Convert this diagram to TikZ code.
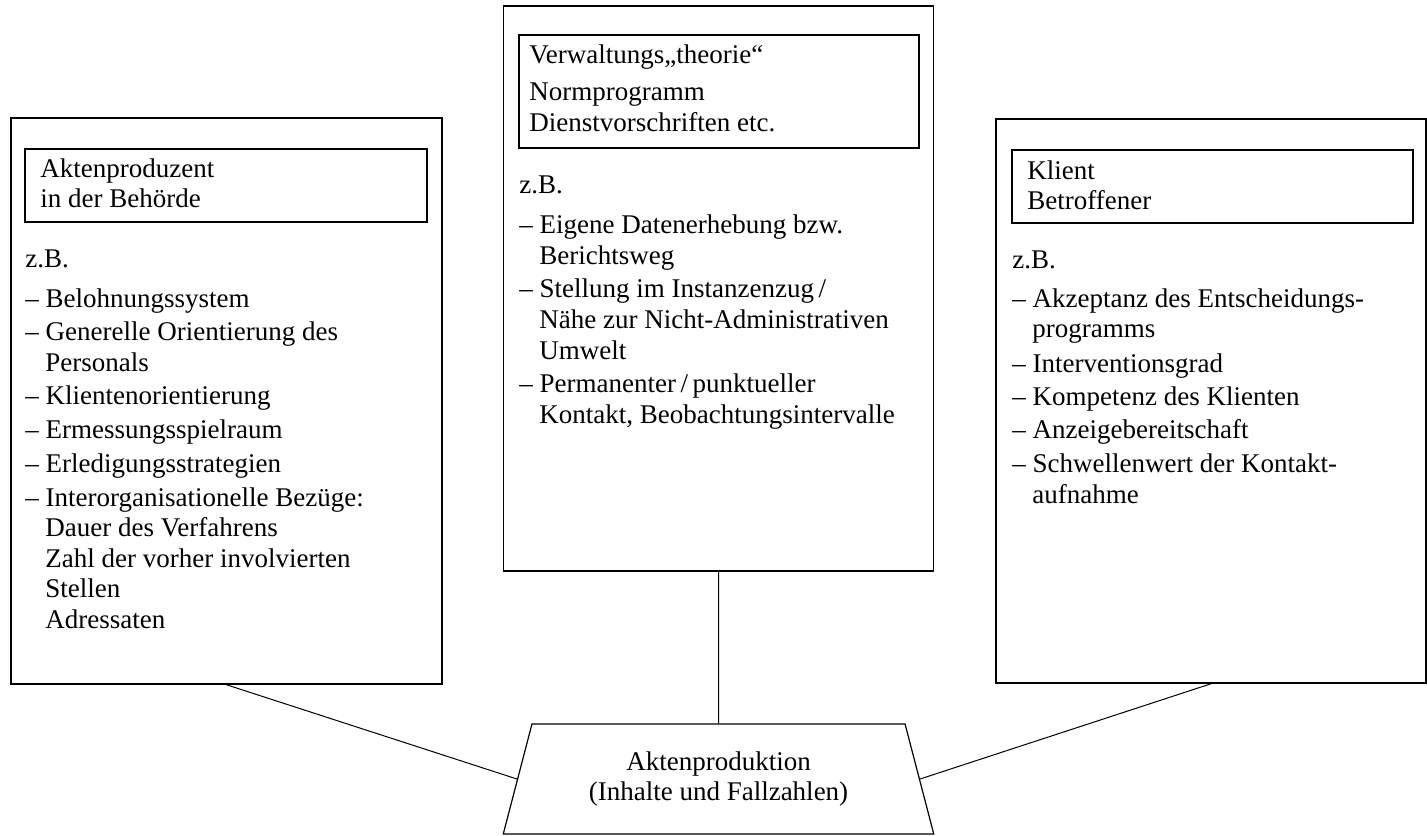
\documentclass[tikz,border=0pt]{standalone}
\usepackage{fontspec}
\setmainfont{Liberation Serif}
\usetikzlibrary{shapes.geometric}

\tikzset{
  box/.style={draw, line width=0.75pt, inner sep=0pt},
  txt/.style={anchor=base west, inner sep=0pt, font=\fontsize{13.5}{15.3}\selectfont},
  conn/.style={line width=0.5pt}
}

\begin{document}
\begin{tikzpicture}[x=0.5pt,y=-0.5pt]
\useasboundingbox (0,0) rectangle (1427,835);
\node[box, minimum width=215.5pt, minimum height=283pt] (lbox) at (226.5,401) {};
\node[box, minimum width=215pt, minimum height=282.5pt] (mbox) at (718.5,288.5) {};
\node[box, minimum width=215pt, minimum height=282pt] (rbox) at (1211,401) {};
\node[box, minimum width=201pt, minimum height=36.5pt] (lhead) at (226,185.5) {};
\node[box, minimum width=200pt, minimum height=56.5pt] (mhead) at (719,91.5) {};
\node[box, minimum width=200.5pt, minimum height=36.5pt] (rhead) at (1212.5,186.5) {};

\node[txt] (lh1) at (40,177) {Aktenproduzent};
\node[txt] (lh2) at (40,207) {in der Behörde};
\node[txt] (mh1) at (529,63) {Verwaltungs„theorie“};
\node[txt] (mh2) at (529,100) {Normprogramm};
\node[txt] (mh3) at (529,131) {Dienstvorschriften etc.};
\node[txt] (rh1) at (1027,179) {Klient};
\node[txt] (rh2) at (1027,209) {Betroffener};

\foreach \d/\y/\t [count=\i] in {0/267/{z.B.}, 0/307/{– Belohnungssystem},
  0/340/{– Generelle Orientierung des}, 20/371/{Personals},
  0/404/{– Klientenorientierung}, 0/438/{– Ermessungsspielraum},
  0/472/{– Erledigungsstrategien}, 0/506/{– Interorganisationelle Bezüge:},
  20/536/{Dauer des Verfahrens}, 20/567/{Zahl der vorher involvierten},
  20/597/{Stellen}, 20/628/{Adressaten}}
  \node[txt] (l\i) at (25+\d,\y) {\t};

\foreach \d/\y/\t [count=\i] in {0/193/{z.B.}, 0/233/{– Eigene Datenerhebung bzw.},
  20/264/{Berichtsweg}, 0/297/{– Stellung im Instanzenzug\,/},
  20/328/{Nähe zur Nicht-Administrativen}, 20/359/{Umwelt},
  0/392/{– Permanenter\,/\,punktueller}, 20/423/{Kontakt, Beobachtungsintervalle}}
  \node[txt] (m\i) at (519+\d,\y) {\t};

\foreach \d/\y/\t [count=\i] in {0/268/{z.B.}, 0/307/{– Akzeptanz des Entscheidungs-},
  20/337/{programms}, 0/372/{– Interventionsgrad},
  0/405/{– Kompetenz des Klienten}, 0/438/{– Anzeigebereitschaft},
  0/472/{– Schwellenwert der Kontakt-}, 20/503/{aufnahme}}
  \node[txt] (r\i) at (1012+\d,\y) {\t};

\node[trapezium, draw, line width=0.6pt, trapezium angle=72.8, trapezium stretches=true,
  minimum width=215.5pt, minimum height=55pt, align=center,
  font=\fontsize{13.5}{15}\selectfont] (prod) at (718.5,779)
  {Aktenproduktion\\(Inhalte und Fallzahlen)};

\draw[conn] (lbox.south) -- (prod.left side);
\draw[conn] (rbox.south) -- (prod.right side);
\draw[conn] (mbox.south) -- (prod.north);
\end{tikzpicture}
\end{document}
